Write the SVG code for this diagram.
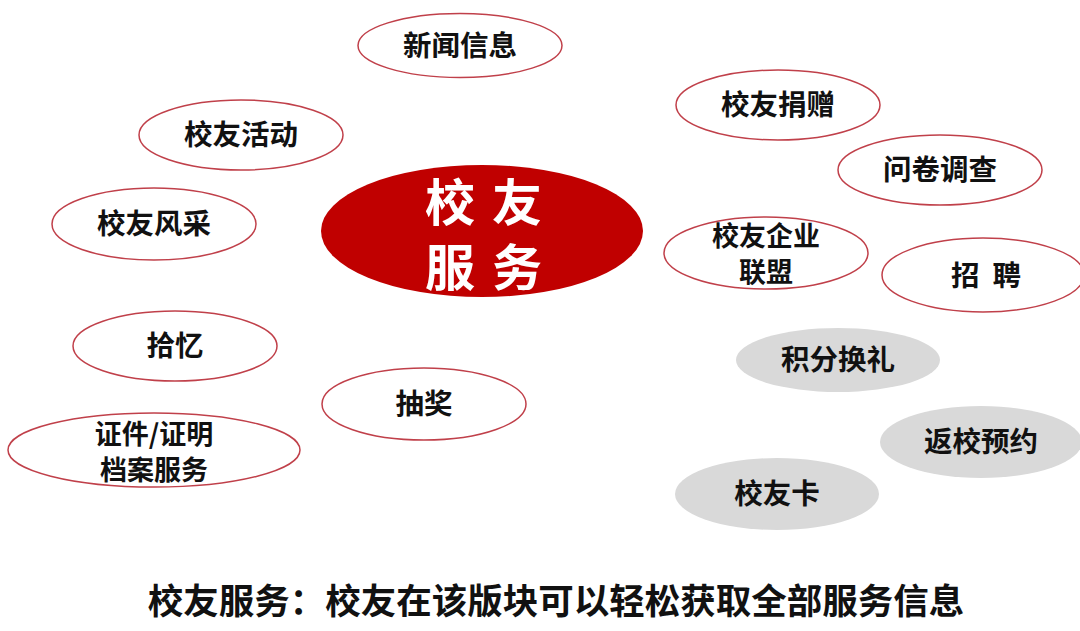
<svg xmlns="http://www.w3.org/2000/svg" width="1080" height="631" viewBox="0 0 1080 631">
<style>
.o{fill:#fff;stroke:#c0404a;stroke-width:1.5}
.g{fill:#d9d9d9;stroke:none}
.t{font-family:"Noto Sans CJK SC","Noto Sans",sans-serif;font-weight:700;font-size:28.5px;fill:#111;text-anchor:middle}
.t2{font-family:"Noto Sans CJK SC","Noto Sans",sans-serif;font-weight:700;font-size:27px;fill:#111;text-anchor:middle}
.c{font-family:"Noto Sans CJK SC","Noto Sans",sans-serif;font-weight:700;font-size:50px;fill:#fff;text-anchor:middle;letter-spacing:17px}
.b{font-family:"Noto Sans CJK SC","Noto Sans",sans-serif;font-weight:700;font-size:35.5px;fill:#111;text-anchor:middle}
</style>
<rect width="1080" height="631" fill="#fff"/>
<g id="connectors"/>
<g id="n-center"><ellipse cx="482" cy="231" rx="161" ry="66" fill="#c00000"/><text class="c" x="492" y="221">校友</text><text class="c" x="492" y="286">服务</text></g>
<g id="n-news"><ellipse class="o" cx="460" cy="45.5" rx="102" ry="32"/><text class="t" x="460" y="56">新闻信息</text></g>
<g id="n-activity"><ellipse class="o" cx="241" cy="135" rx="102" ry="35"/><text class="t" x="241" y="145">校友活动</text></g>
<g id="n-style"><ellipse class="o" cx="154" cy="224" rx="102" ry="36"/><text class="t" x="154" y="234">校友风采</text></g>
<g id="n-memory"><ellipse class="o" cx="175" cy="346" rx="102" ry="35"/><text class="t" x="175" y="356">拾忆</text></g>
<g id="n-lottery"><ellipse class="o" cx="424" cy="404" rx="102" ry="36"/><text class="t" x="424" y="414">抽奖</text></g>
<g id="n-cert"><ellipse class="o" cx="154" cy="450" rx="146" ry="37"/><text class="t2" x="154" y="444">证件/证明</text><text class="t2" x="154" y="480">档案服务</text></g>
<g id="n-donate"><ellipse class="o" cx="778" cy="105" rx="102" ry="35"/><text class="t" x="778" y="115">校友捐赠</text></g>
<g id="n-survey"><ellipse class="o" cx="940" cy="170" rx="102" ry="35"/><text class="t" x="940" y="180">问卷调查</text></g>
<g id="n-union"><ellipse class="o" cx="766" cy="253" rx="102" ry="36"/><text class="t2" x="766" y="246">校友企业</text><text class="t2" x="766" y="282">联盟</text></g>
<g id="n-hire"><ellipse class="o" cx="983" cy="275" rx="101" ry="37"/><text class="t" x="986" y="286" xml:space="preserve">招  聘</text></g>
<g id="n-points"><ellipse class="g" cx="838" cy="360" rx="102" ry="32"/><text class="t" x="838" y="370">积分换礼</text></g>
<g id="n-visit"><ellipse class="g" cx="981" cy="442" rx="101" ry="36"/><text class="t" x="981" y="452">返校预约</text></g>
<g id="n-card"><ellipse class="g" cx="777" cy="494" rx="102" ry="36"/><text class="t" x="777" y="504">校友卡</text></g>
<text class="b" x="556" y="614">校友服务：校友在该版块可以轻松获取全部服务信息</text>
</svg>
